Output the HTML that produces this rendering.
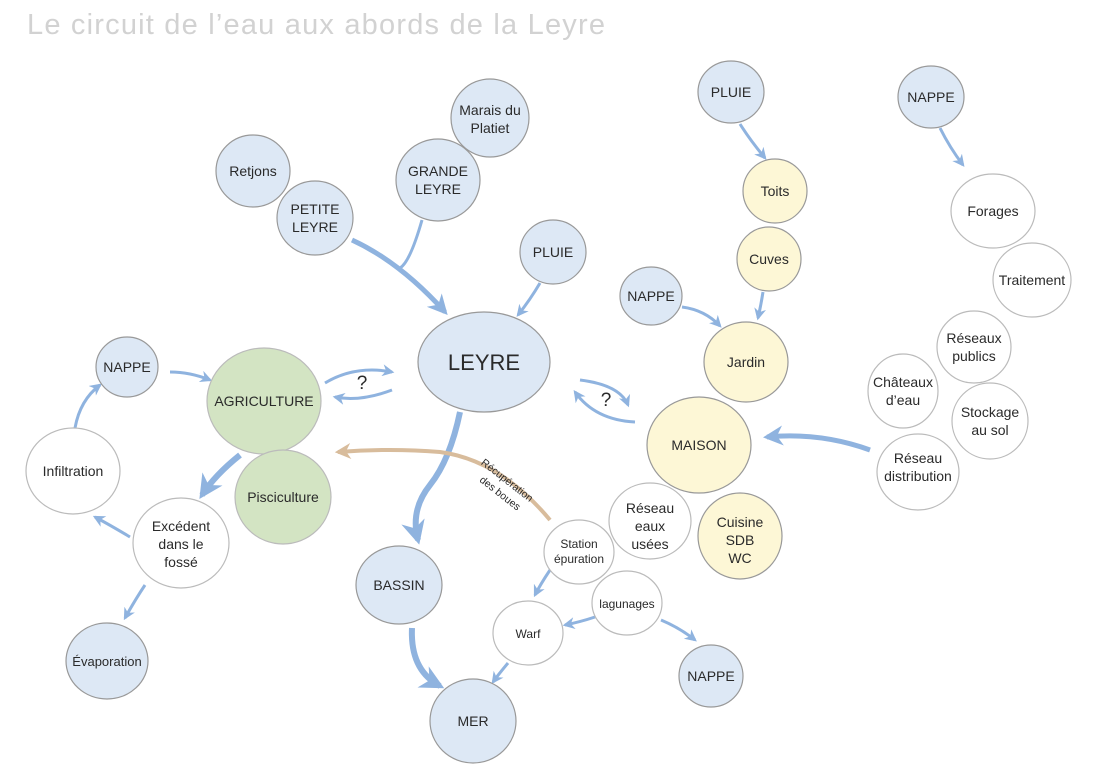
<!DOCTYPE html>
<html><head><meta charset="utf-8"><style>
html,body{margin:0;padding:0;background:#fff;}
svg{display:block;font-family:"Liberation Sans",sans-serif;}
text{fill:#2a2a2a;text-anchor:middle;}
.b{fill:#dde8f5;stroke:#999;stroke-width:1.2}
.w{fill:#fff;stroke:#bbb;stroke-width:1.2}
.y{fill:#fdf7d6;stroke:#999;stroke-width:1.2}
.g{fill:#d3e4c3;stroke:#bbb;stroke-width:1.2}
.a{fill:none;stroke:#8fb3df;stroke-width:3;marker-end:url(#ah)}
</style></head><body>
<svg width="1100" height="777" viewBox="0 0 1100 777">
<defs>
<marker id="ah" viewBox="0 0 10 10" refX="8" refY="5" markerWidth="4" markerHeight="4" orient="auto"><path d="M0,0 L10,5 L0,10 L3,5z" fill="#8fb3df"/></marker>
<marker id="ahb" viewBox="0 0 10 10" refX="8" refY="5" markerWidth="4" markerHeight="4" orient="auto"><path d="M0,0 L10,5 L0,10 L3,5z" fill="#d8bc9c"/></marker>
</defs>
<text x="27" y="34" style="text-anchor:start;fill:#d2d2d2;font-size:29px;letter-spacing:1.2px">Le circuit de l’eau aux abords de la Leyre</text>

<!-- arrows -->
<path d="M352,240 Q400,262 445,312" class="a" style="stroke-width:5"/>
<path d="M422,220 Q410,262 400,268" fill="none" stroke="#8fb3df" stroke-width="3"/>
<path d="M540,283 Q530,300 518,315" class="a"/>
<path d="M325,383 Q355,365 392,372" class="a"/>
<path d="M392,390 Q360,402 335,397" class="a"/>
<path d="M170,372 Q190,372 210,380" class="a"/>
<path d="M460,412 Q450,460 430,485 Q410,510 418,540" class="a" style="stroke-width:6"/>
<path d="M580,380 Q620,385 628,405" class="a"/>
<path d="M635,422 Q595,420 575,392" class="a"/>
<path d="M550,520 Q500,460 440,452 Q390,448 338,452" fill="none" stroke="#d8bc9c" stroke-width="4" marker-end="url(#ahb)"/>
<text transform="translate(505,483) rotate(38)" style="font-size:10.5px">Récupération</text>
<text transform="translate(498,496) rotate(38)" style="font-size:10.5px">des boues</text>
<path d="M240,455 Q215,475 202,495" class="a" style="stroke-width:6"/>
<path d="M130,537 Q110,525 95,517" class="a"/>
<path d="M75,428 Q80,400 100,385" class="a"/>
<path d="M145,585 Q135,600 125,618" class="a"/>
<path d="M412,628 Q410,670 440,686" class="a" style="stroke-width:6"/>
<path d="M550,570 Q540,585 535,595" class="a"/>
<path d="M595,617 Q580,622 565,625" class="a"/>
<path d="M508,663 Q498,675 493,682" class="a"/>
<path d="M661,620 Q680,628 695,640" class="a"/>
<path d="M740,124 Q750,140 765,158" class="a"/>
<path d="M763,292 Q761,305 758,318" class="a"/>
<path d="M682,307 Q705,310 720,326" class="a"/>
<path d="M870,450 Q820,432 767,437" class="a" style="stroke-width:5"/>
<path d="M940,128 Q950,148 963,165" class="a"/>

<!-- nodes -->
<ellipse cx="253" cy="171" rx="37" ry="36" class="b"/><text x="253" y="176" font-size="14">Retjons</text>
<ellipse cx="315" cy="218" rx="38" ry="37" class="b"/><text x="315" y="214" font-size="14">PETITE</text><text x="315" y="232" font-size="14">LEYRE</text>
<ellipse cx="438" cy="180" rx="42" ry="41" class="b"/><text x="438" y="176" font-size="14">GRANDE</text><text x="438" y="194" font-size="14">LEYRE</text>
<ellipse cx="490" cy="118" rx="39" ry="39" class="b"/><text x="490" y="115" font-size="14">Marais du</text><text x="490" y="133" font-size="14">Platiet</text>
<ellipse cx="553" cy="252" rx="33" ry="32" class="b"/><text x="553" y="257" font-size="14">PLUIE</text>
<ellipse cx="484" cy="362" rx="66" ry="50" class="b"/><text x="484" y="370" font-size="22">LEYRE</text>
<text x="362" y="389" font-size="19">?</text>
<text x="606" y="406" font-size="19">?</text>
<ellipse cx="264" cy="401" rx="57" ry="53" class="g"/><text x="264" y="406" font-size="14">AGRICULTURE</text>
<ellipse cx="283" cy="497" rx="48" ry="47" class="g"/><text x="283" y="502" font-size="14">Pisciculture</text>
<ellipse cx="127" cy="367" rx="31" ry="30" class="b"/><text x="127" y="372" font-size="14">NAPPE</text>
<ellipse cx="73" cy="471" rx="47" ry="43" class="w"/><text x="73" y="476" font-size="14">Infiltration</text>
<ellipse cx="181" cy="543" rx="48" ry="45" class="w"/><text x="181" y="531" font-size="14">Excédent</text><text x="181" y="549" font-size="14">dans le</text><text x="181" y="567" font-size="14">fossé</text>
<ellipse cx="107" cy="661" rx="41" ry="38" class="b"/><text x="107" y="666" font-size="13">Évaporation</text>
<ellipse cx="399" cy="585" rx="43" ry="39" class="b"/><text x="399" y="590" font-size="14">BASSIN</text>
<ellipse cx="473" cy="721" rx="43" ry="42" class="b"/><text x="473" y="726" font-size="14">MER</text>
<ellipse cx="579" cy="552" rx="35" ry="32" class="w"/><text x="579" y="548" font-size="12">Station</text><text x="579" y="563" font-size="12">épuration</text>
<ellipse cx="650" cy="521" rx="41" ry="38" class="w"/><text x="650" y="513" font-size="14">Réseau</text><text x="650" y="531" font-size="14">eaux</text><text x="650" y="549" font-size="14">usées</text>
<ellipse cx="627" cy="603" rx="35" ry="32" class="w"/><text x="627" y="608" font-size="12">lagunages</text>
<ellipse cx="528" cy="633" rx="35" ry="32" class="w"/><text x="528" y="638" font-size="12">Warf</text>
<ellipse cx="711" cy="676" rx="32" ry="31" class="b"/><text x="711" y="681" font-size="14">NAPPE</text>
<ellipse cx="699" cy="445" rx="52" ry="48" class="y"/><text x="699" y="450" font-size="14">MAISON</text>
<ellipse cx="740" cy="536" rx="42" ry="43" class="y"/><text x="740" y="527" font-size="14">Cuisine</text><text x="740" y="545" font-size="14">SDB</text><text x="740" y="563" font-size="14">WC</text>
<ellipse cx="746" cy="362" rx="42" ry="40" class="y"/><text x="746" y="367" font-size="14">Jardin</text>
<ellipse cx="651" cy="296" rx="31" ry="29" class="b"/><text x="651" y="301" font-size="14">NAPPE</text>
<ellipse cx="769" cy="259" rx="32" ry="32" class="y"/><text x="769" y="264" font-size="14">Cuves</text>
<ellipse cx="775" cy="191" rx="32" ry="32" class="y"/><text x="775" y="196" font-size="14">Toits</text>
<ellipse cx="731" cy="92" rx="33" ry="31" class="b"/><text x="731" y="97" font-size="14">PLUIE</text>
<ellipse cx="931" cy="97" rx="33" ry="31" class="b"/><text x="931" y="102" font-size="14">NAPPE</text>
<ellipse cx="993" cy="211" rx="42" ry="37" class="w"/><text x="993" y="216" font-size="14">Forages</text>
<ellipse cx="1032" cy="280" rx="39" ry="37" class="w"/><text x="1032" y="285" font-size="14">Traitement</text>
<ellipse cx="974" cy="347" rx="37" ry="36" class="w"/><text x="974" y="343" font-size="14">Réseaux</text><text x="974" y="361" font-size="14">publics</text>
<ellipse cx="903" cy="391" rx="35" ry="37" class="w"/><text x="903" y="387" font-size="14">Châteaux</text><text x="903" y="405" font-size="14">d’eau</text>
<ellipse cx="990" cy="421" rx="38" ry="38" class="w"/><text x="990" y="417" font-size="14">Stockage</text><text x="990" y="435" font-size="14">au sol</text>
<ellipse cx="918" cy="472" rx="41" ry="38" class="w"/><text x="918" y="463" font-size="14">Réseau</text><text x="918" y="481" font-size="14">distribution</text>
</svg>
</body></html>
